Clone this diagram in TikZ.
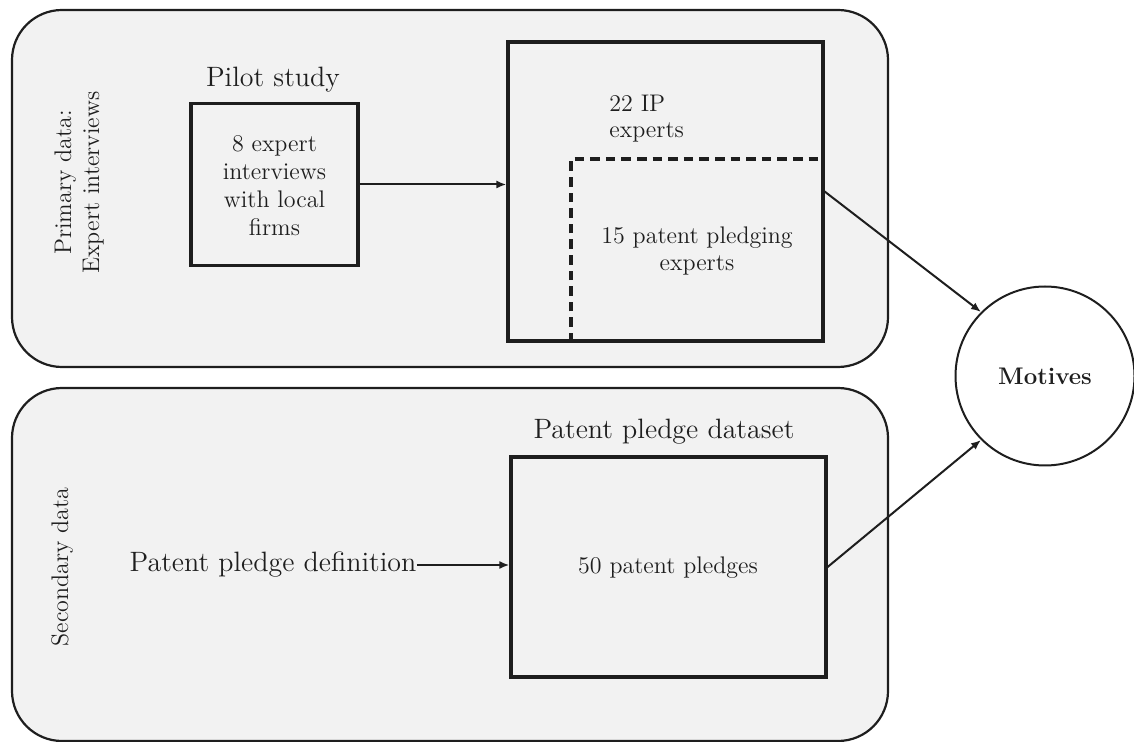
\documentclass[tikz,border=0pt]{standalone}
\usetikzlibrary{arrows.meta}
\definecolor{panelgray}{HTML}{F2F2F2}
\definecolor{ink}{HTML}{1E1E1E}
\begin{document}
\begin{tikzpicture}[x=0.5pt,y=-0.5pt,
  panel/.style={draw=ink, line width=1.1pt, fill=panelgray, rounded corners=25pt, inner sep=0pt},
  stagebox/.style={draw=ink, line width=1.6pt, fill=panelgray, inner sep=0pt},
  txt/.style={inner sep=0pt, text=ink, font=\fontsize{12}{14}\selectfont, align=center},
  title/.style={inner sep=0pt, text=ink, font=\fontsize{14}{16}\selectfont},
  flow/.style={draw=ink, line width=1pt, -{Latex[length=5pt,width=4pt]}},
  ]
\useasboundingbox (0,0) rectangle (1134,742);

% two data panels
\node[panel, minimum width=438pt, minimum height=178.5pt] (primary) at (450,188.5) {};
\node[panel, minimum width=438pt, minimum height=176.5pt] (secondary) at (450,564.5) {};

% side labels
\node[txt, rotate=90] (primlabel) at (79,182.5) {Primary data:\\Expert interviews};
\node[txt, rotate=90] (seclabel) at (62,567) {Secondary data};

% pilot study
\node[title] (pilottitle) at (273,80) {Pilot study};
\node[stagebox, minimum width=83.5pt, minimum height=81pt] (pilot) at (274.5,184.5) {};
\node[txt] (pilottext) at (274.5,185.5) {8 expert\\interviews\\with local\\firms};

% IP experts with nested patent pledging experts
\node[stagebox, minimum width=157.5pt, minimum height=149.5pt] (experts) at (665.5,191.5) {};
\node[txt, align=left, anchor=west, font=\fontsize{12}{13}\selectfont] (iptext) at (609,119) {22 IP\\experts};
\coordinate (dashcorner) at (571,159);
\draw[ink, line width=1.6pt, dash pattern=on 4.8pt off 3pt]
  (dashcorner |- experts.south) -- (dashcorner) -- (dashcorner -| experts.east);
\node[txt, font=\fontsize{12}{13.5}\selectfont] (pledgers) at (697,251.5) {15 patent pledging\\experts};

% secondary data
\node[title] (deftext) at (273,565) {Patent pledge definition};
\node[title] (datatitle) at (664,432) {Patent pledge dataset};
\node[stagebox, minimum width=157.5pt, minimum height=110pt] (dataset) at (668.5,567) {};
\node[txt] (datatext) at (668,568) {50 patent pledges};

% outcome
\node[circle, draw=ink, line width=1pt, fill=white, minimum size=89.5pt, inner sep=0pt,
      font=\fontsize{12}{14}\selectfont\bfseries, text=ink] (motives) at (1045,376) {Motives};

% connectors
\draw[flow] (pilot.east) -- (pilot.east -| experts.west);
\draw[flow] (deftext.east) -- (deftext.east -| dataset.west);
\draw[flow] (experts.east) -- (motives.135);
\draw[flow] (dataset.east) -- (motives.225);
\end{tikzpicture}
\end{document}
